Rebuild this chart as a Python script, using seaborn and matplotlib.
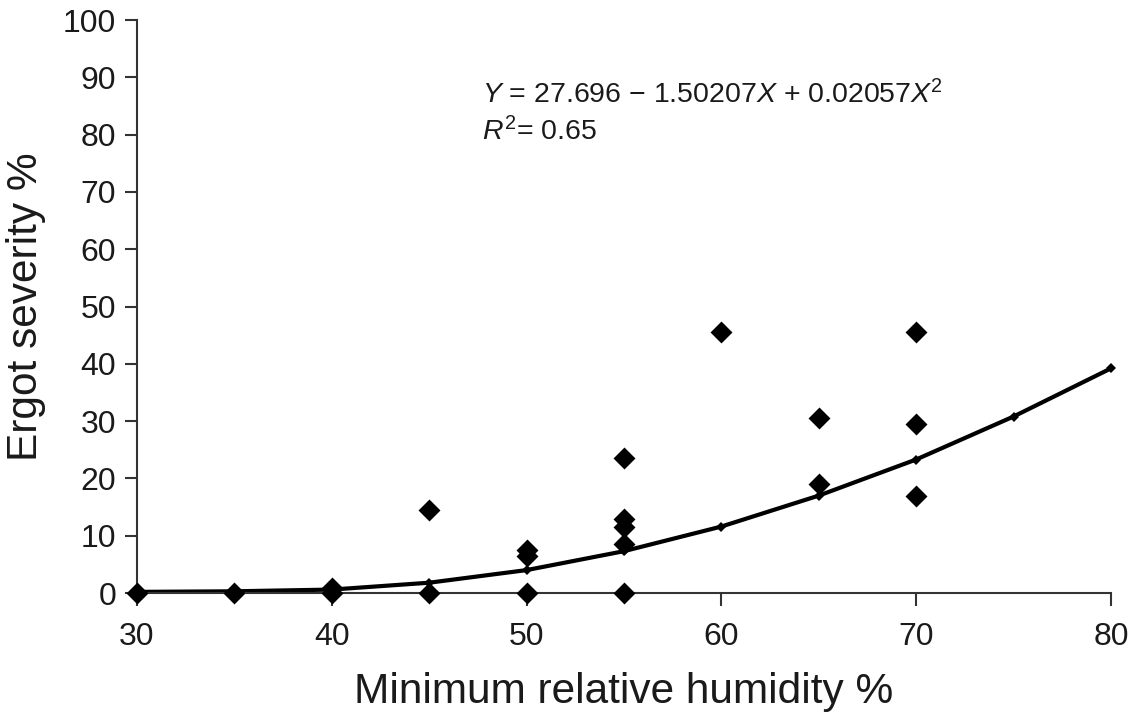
import matplotlib
matplotlib.use('Agg')
import matplotlib.pyplot as plt
import seaborn as sns
import pandas as pd

humidity = [30, 35, 40, 40, 45, 45, 50, 50, 50, 55, 55, 55, 55, 55, 60, 65, 65, 70, 70, 70]
severity = [0, 0, 0, 0.8, 14.5, 0, 7.5, 6.5, 0, 23.5, 13, 11.5, 8.5, 0, 45.5, 30.5, 19, 45.5, 29.5, 17]

# fitted quadratic curve, values read at each 5 %
fit_x = [30, 35, 40, 45, 50, 55, 60, 65, 70, 75, 80]
fit_y = [0.2, 0.3, 0.6, 1.8, 4.0, 7.3, 11.6, 17.0, 23.3, 30.8, 39.2]

x_ticks = [30, 40, 50, 60, 70, 80]
y_ticks = [0, 10, 20, 30, 40, 50, 60, 70, 80, 90, 100]

points = pd.DataFrame({'humidity': humidity, 'severity': severity})
fit = pd.DataFrame({'humidity': fit_x, 'severity': fit_y})

sns.set_style('ticks')
plt.rcParams['font.family'] = ['Liberation Sans', 'DejaVu Sans']
plt.rcParams['mathtext.fontset'] = 'custom'
plt.rcParams['mathtext.rm'] = 'Liberation Sans'
plt.rcParams['mathtext.it'] = 'Liberation Sans:italic'

fig = plt.figure(figsize=(11.29, 7.15), dpi=100)
ax = fig.add_axes([0.1213, 0.1706, 0.8627, 0.8014])

sns.lineplot(data=fit, x='humidity', y='severity', ax=ax, color='black',
             linewidth=3, marker='D', markersize=5, markeredgewidth=0, clip_on=False)
sns.scatterplot(data=points, x='humidity', y='severity', ax=ax, color='black',
                marker='D', s=125, linewidth=0, clip_on=False, zorder=3)

ax.set_xlim(30, 80)
ax.set_ylim(0, 100)
ax.set_xticks(x_ticks)
ax.set_yticks(y_ticks)
ax.tick_params(labelsize=23, colors='#333333', length=9, width=1.5, labelcolor='#1a1a1a')
ax.tick_params(axis='x', pad=12)
ax.tick_params(axis='y', pad=6)
for side in ['left', 'bottom']:
    ax.spines[side].set_color('#333333')
    ax.spines[side].set_linewidth(1.5)
sns.despine(ax=ax)

ax.set_xlabel('Minimum relative humidity %', fontsize=30.5, color='#1a1a1a', labelpad=14)
ax.set_ylabel('Ergot severity %', fontsize=30.5, color='#1a1a1a', labelpad=12)

ax.text(0.354, 0.855, r'$Y$ = 27.696 − 1.50207$X$ + 0.02057$X^2$', transform=ax.transAxes,
        fontsize=20.5, color='#1a1a1a')
ax.text(0.354, 0.79, r'$R^2$= 0.65', transform=ax.transAxes, fontsize=20.5, color='#1a1a1a')

fig.savefig('out.png', dpi=100)
